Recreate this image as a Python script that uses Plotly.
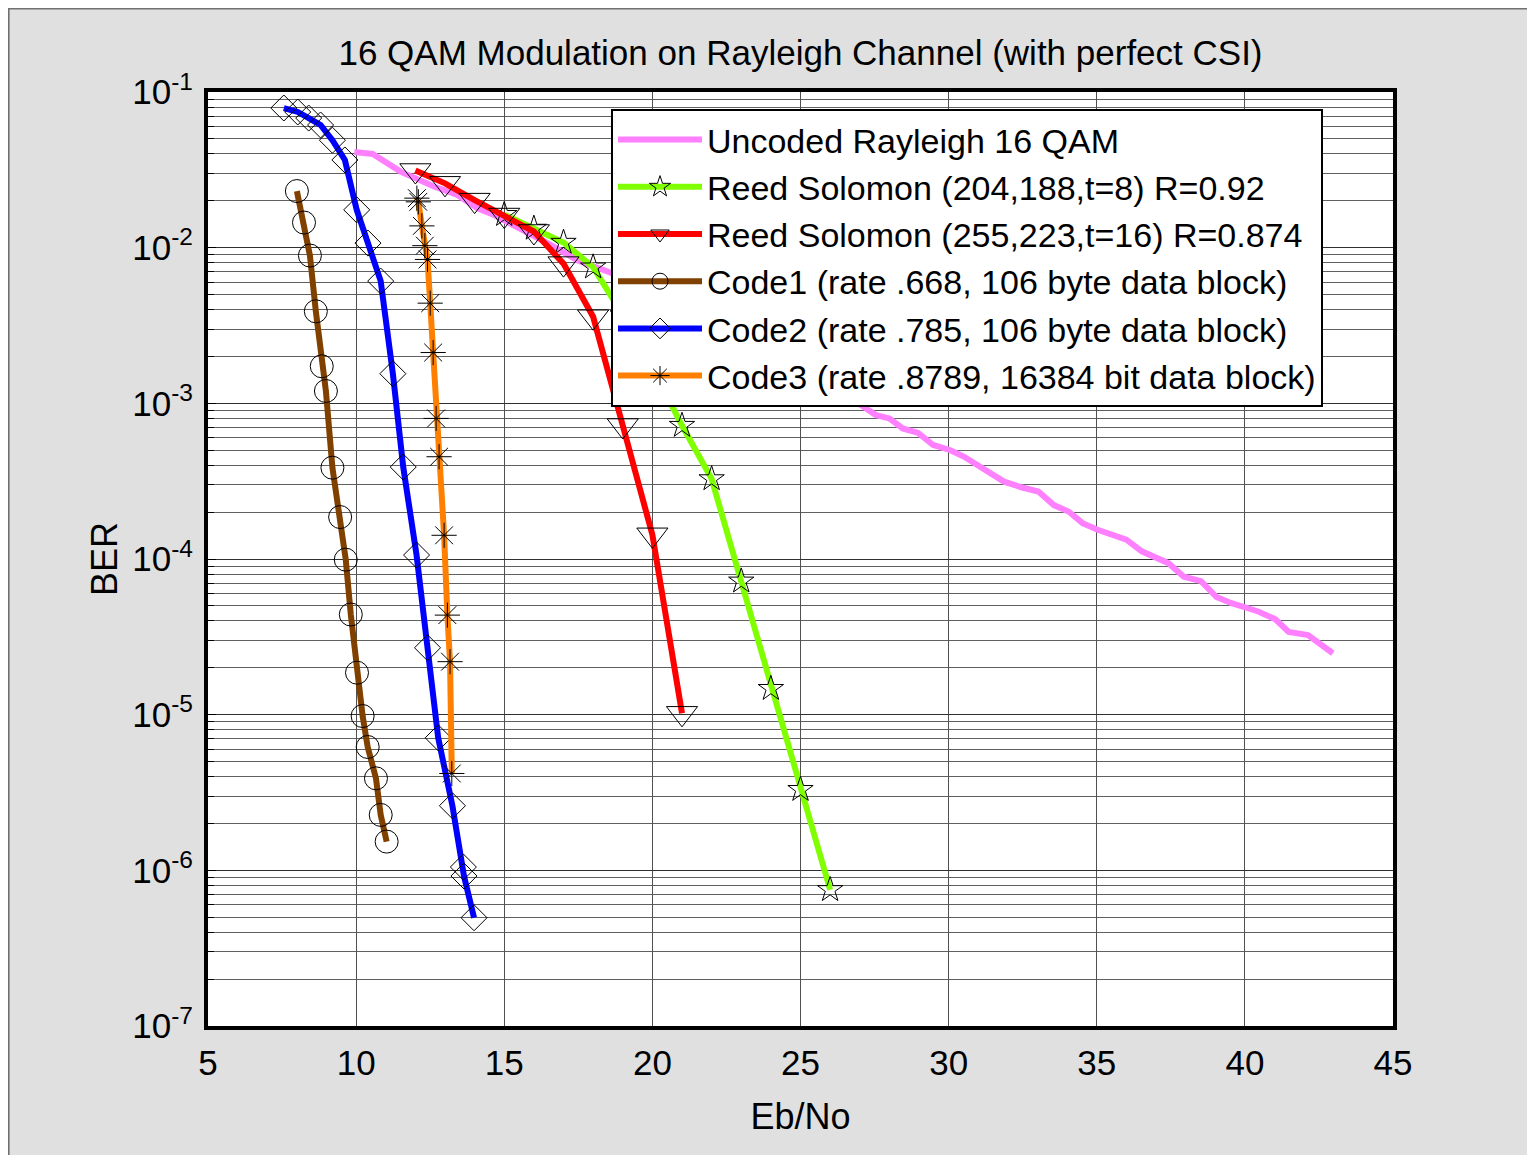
import plotly.graph_objects as go

# ---------------- data ----------------
unc_x = [9.94, 10.56, 11.5, 12.63, 13.42, 14.1, 14.66, 15.56, 16.46, 17.47, 18.6,
         25.48, 25.94, 26.58, 27.04, 27.55, 28.0, 28.45, 28.97, 29.48, 30.06, 30.51,
         31.16, 31.87, 32.45, 33.03, 33.55, 34.06, 34.52, 35.03, 36.0, 36.52, 37.42,
         37.94, 38.52, 39.04, 39.55, 40.45, 41.03, 41.48, 42.13, 42.97]
unc_y = [0.0412, 0.040, 0.0308, 0.0247, 0.0218, 0.0179, 0.0162, 0.0133, 0.0107, 0.0083, 0.0069,
         1.35e-3, 1.30e-3, 1.05e-3, 9.77e-4, 8.4e-4, 8.0e-4, 6.9e-4, 6.45e-4, 5.4e-4, 5.0e-4, 4.55e-4,
         3.83e-4, 3.14e-4, 2.89e-4, 2.71e-4, 2.22e-4, 2.01e-4, 1.7e-4, 1.54e-4, 1.33e-4, 1.12e-4, 9.4e-5,
         7.7e-5, 7.2e-5, 5.7e-5, 5.2e-5, 4.6e-5, 4.1e-5, 3.4e-5, 3.25e-5, 2.48e-5]

rs204_x = [15, 16, 17, 18, 19, 20, 21, 22, 23, 24, 25, 26]
rs204_y = [0.0163, 0.0133, 0.0108, 0.0075, 0.0037, 0.0017, 7.2e-4, 3.27e-4, 7.2e-5, 1.47e-5, 3.3e-6, 7.5e-7]

rs255_x = [12, 13, 14, 15, 16, 17, 18, 19, 20, 21]
rs255_y = [0.0313, 0.0259, 0.0202, 0.0162, 0.0127, 0.0079, 0.0036, 7.2e-4, 1.43e-4, 1.02e-5]

code1_x = [8.0, 8.24, 8.44, 8.64, 8.84, 8.98, 9.2, 9.46, 9.65, 9.82, 10.03, 10.22, 10.39, 10.67, 10.83, 11.03]
code1_y = [0.0231, 0.0145, 0.0089, 0.0039, 0.00173, 0.0012, 3.86e-4, 1.86e-4, 9.9e-5, 4.4e-5,
           1.86e-5, 9.8e-6, 6.2e-6, 3.9e-6, 2.27e-6, 1.53e-6]

code2_x = [7.56, 8.03, 8.4, 8.8, 9.2, 9.62, 10.02, 10.4, 10.83, 11.24, 11.59, 12.04, 12.41, 12.77,
           13.25, 13.62, 13.64, 13.98]
code2_y = [0.0789, 0.0744, 0.068, 0.0614, 0.049, 0.0366, 0.0175, 0.0107, 0.0061, 0.00155, 3.9e-4,
           1.06e-4, 2.69e-5, 7.1e-6, 2.6e-6, 1.05e-6, 9.2e-7, 4.96e-7]

code3_x = [12.05, 12.1, 12.22, 12.32, 12.41, 12.5, 12.6, 12.7, 12.8, 12.97, 13.08, 13.17, 13.23]
code3_y = [0.0208, 0.0197, 0.0138, 0.0103, 0.0084, 0.0044, 0.00212, 8.0e-4, 4.54e-4, 1.42e-4,
           4.36e-5, 2.19e-5, 4.19e-6]

names = ["Uncoded Rayleigh 16 QAM",
         "Reed Solomon (204,188,t=8) R=0.92",
         "Reed Solomon (255,223,t=16) R=0.874",
         "Code1 (rate .668, 106 byte data block)",
         "Code2 (rate .785, 106 byte data block)",
         "Code3 (rate .8789, 16384 bit data block)"]

ytick_vals = [1e-7, 1e-6, 1e-5, 1e-4, 1e-3, 1e-2, 1e-1]
ytick_text = ["10<sup>-7</sup>", "10<sup>-6</sup>", "10<sup>-5</sup>", "10<sup>-4</sup>",
              "10<sup>-3</sup>", "10<sup>-2</sup>", "10<sup>-1</sup>"]
xtick_vals = [5, 10, 15, 20, 25, 30, 35, 40, 45]

# ---------------- figure ----------------
FONT = "Liberation Sans, Arial, Helvetica, sans-serif"
OFF = 8                       # page body margin
W, H = 1535 - OFF, 1155 - OFF
L, T = 208 - OFF, 92 - OFF
R = W - (1393 - OFF)
B = H - (1026 - OFF)
pw, ph = W - L - R, H - T - B

def px2paper_x(p):            # p in reference page pixels
    return (p - OFF - L) / pw

def px2paper_y(p):
    return (H - B - (p - OFF)) / ph

fig = go.Figure()

series = [
    (unc_x, unc_y, "#ff80ff", None, 0),
    (rs204_x, rs204_y, "#80ff00", "star-open", 19),
    (rs255_x, rs255_y, "#ff0000", "triangle-down-open", 27),
    (code1_x, code1_y, "#804000", "circle-open", 23),
    (code2_x, code2_y, "#0000ff", "diamond-open", 20),
    (code3_x, code3_y, "#ff8000", "asterisk-open", 21),
]
for (xs, ys, col, sym, sz), nm in zip(series, names):
    if sym is None:
        fig.add_trace(go.Scatter(x=xs, y=ys, name=nm, mode="lines",
                                 line=dict(color=col, width=6)))
    else:
        fig.add_trace(go.Scatter(x=xs, y=ys, name=nm, mode="lines+markers",
                                 line=dict(color=col, width=6),
                                 marker=dict(symbol=sym, size=sz, color="black",
                                             line=dict(color="black", width=1))))

shapes = [
    # figure frame outline (left / top edges visible)
    dict(type="rect", xref="paper", yref="paper", layer="below",
         x0=-L / pw + 0.0005, x1=(W - L + 20) / pw, y0=-(B + 20) / ph, y1=(ph + T) / ph - 0.0005,
         fillcolor="rgba(0,0,0,0)", line=dict(color="#707070", width=2)),
]

fig.update_layout(
    width=W, height=H,
    margin=dict(l=L, r=R, t=T, b=B, autoexpand=False),
    paper_bgcolor="#e0e0e0",
    plot_bgcolor="white",
    font=dict(family=FONT, size=32, color="black"),
    title=dict(text="16 QAM Modulation on Rayleigh Channel (with perfect CSI)",
               x=(L + pw / 2) / W, xanchor="center", y=1 - (53 - OFF) / H, yanchor="middle",
               font=dict(size=35, family=FONT, color="black")),
    shapes=shapes,
    showlegend=True,
    legend=dict(x=px2paper_x(611), y=px2paper_y(109), xanchor="left", yanchor="top",
                bgcolor="white", bordercolor="black", borderwidth=2,
                font=dict(size=34, family=FONT, color="black"),
                itemwidth=84, tracegroupgap=0),
    xaxis=dict(range=[5, 45], tickmode="array", tickvals=xtick_vals,
               showline=True, linecolor="black", linewidth=4, mirror=True,
               showgrid=True, gridcolor="#505050", gridwidth=1,
               ticks="inside", ticklen=6, tickcolor="#505050",
               ticklabelstandoff=3, zeroline=False,
               tickfont=dict(size=35, family=FONT, color="black"),
               title=dict(text="Eb/No", standoff=24,
                          font=dict(size=36, family=FONT, color="black"))),
    yaxis=dict(type="log", range=[-7, -1], tickmode="array",
               tickvals=ytick_vals, ticktext=ytick_text,
               showline=True, linecolor="black", linewidth=4, mirror=True,
               showgrid=True, gridcolor="#303030", gridwidth=1,
               ticks="inside", ticklen=8, tickcolor="black",
               ticklabelstandoff=4, zeroline=False,
               tickfont=dict(size=35, family=FONT, color="black"),
               minor=dict(dtick="D1", showgrid=True, gridcolor="#606060", gridwidth=1,
                          ticks="inside", ticklen=6, tickcolor="black"),
               title=dict(text="BER", standoff=5,
                          font=dict(size=36, family=FONT, color="black"))),
)

fig.write_html("out.html")
